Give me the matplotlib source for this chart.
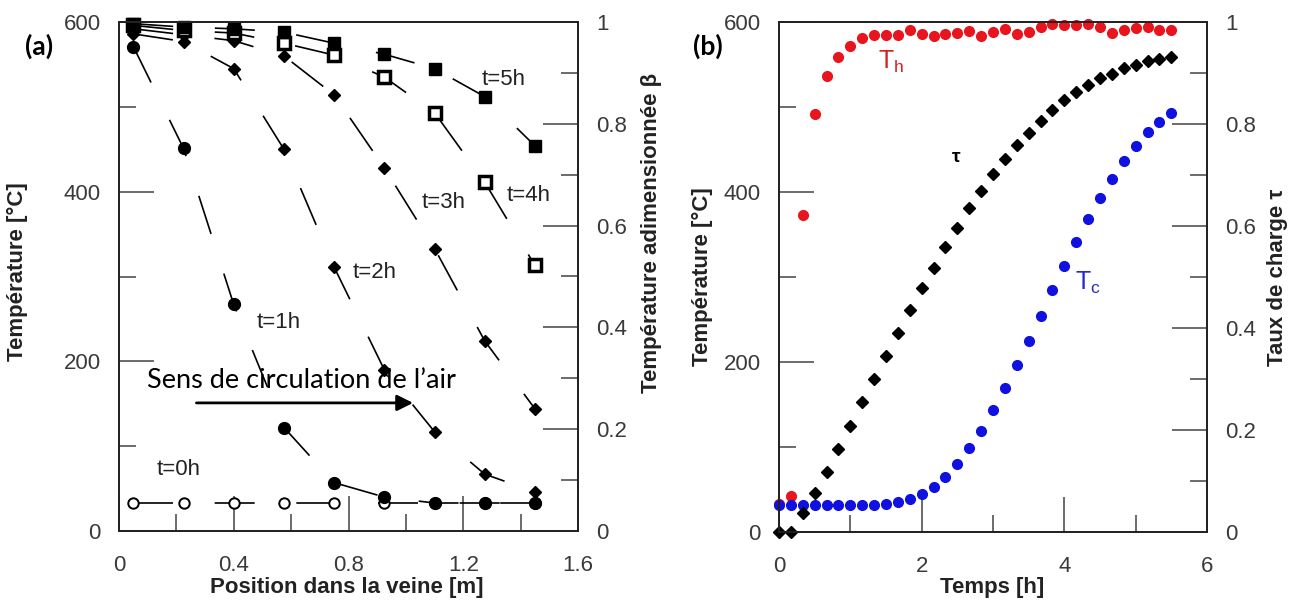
import matplotlib
matplotlib.use('Agg')
import matplotlib.pyplot as plt
from matplotlib.ticker import MultipleLocator, FormatStrFormatter

plt.rcParams['font.family'] = ['Liberation Sans', 'DejaVu Sans']

# (a) temperature profiles along the bed, one list per time
position = [0.05, 0.225, 0.40, 0.575, 0.75, 0.925, 1.10, 1.275, 1.45]
T_0h = [33, 33, 33, 33, 33, 33, 33, 33, 33]
T_1h = [571, 451, 267, 122, 57, 40, 33, 33, 33]
T_2h = [586, 577, 545, 450, 311, 190, 117, 67, 46]
T_3h = [592, 585, 578, 560, 514, 428, 333, 224, 144]
T_4h = [596, 590, 587, 575, 561, 535, 493, 411, 313]
T_5h = [598, 594, 592, 588, 575, 562, 545, 512, 454]

# (b) inlet / outlet temperature and charge ratio vs time
time_h = [0.00, 0.17, 0.33, 0.50, 0.67, 0.83, 1.00, 1.17, 1.33, 1.50, 1.67, 1.83,
          2.00, 2.17, 2.33, 2.50, 2.67, 2.83, 3.00, 3.17, 3.33, 3.50, 3.67, 3.83,
          4.00, 4.17, 4.33, 4.50, 4.67, 4.83, 5.00, 5.17, 5.33, 5.50]
T_h = [33, 42, 373, 492, 536, 559, 572, 581, 585, 585, 585, 591,
       586, 584, 586, 587, 589, 583, 588, 592, 586, 588, 594, 598,
       597, 597, 598, 594, 587, 591, 593, 594, 591, 591]
T_c = [32, 32, 32, 32, 32, 32, 32, 32, 32, 33, 35, 39,
       45, 53, 65, 80, 99, 119, 143, 169, 196, 225, 254, 285,
       313, 341, 368, 393, 415, 436, 454, 470, 482, 493]
tau = [0, 0, 0.037, 0.076, 0.118, 0.163, 0.208, 0.255, 0.300, 0.345, 0.390, 0.435,
       0.478, 0.518, 0.559, 0.596, 0.635, 0.669, 0.702, 0.731, 0.759, 0.782, 0.806, 0.827,
       0.847, 0.863, 0.876, 0.890, 0.898, 0.910, 0.916, 0.924, 0.927, 0.931]

W, H = 1296, 601
fig = plt.figure(figsize=(W / 100, H / 100), dpi=100)

TXT = '#3a3a3a'
TICK = '#444444'
RED = '#e8141e'
BLUE = '#1010e0'


def px_axes(x0, x1, y0, y1):
    return fig.add_axes([x0 / W, 1 - y1 / H, (x1 - x0) / W, (y1 - y0) / H])


def frame(ax, xmaj, xmin, xmax):
    ax.set_xlim(0, xmax)
    ax.set_ylim(0, 600)
    ax.xaxis.set_major_locator(MultipleLocator(xmaj))
    ax.xaxis.set_minor_locator(MultipleLocator(xmin))
    ax.xaxis.set_major_formatter(FormatStrFormatter('%g'))
    ax.yaxis.set_major_locator(MultipleLocator(200))
    ax.yaxis.set_minor_locator(MultipleLocator(100))
    ax.tick_params(which='both', direction='in', top=False, right=False,
                   width=1.1, color=TICK)
    ax.tick_params(which='major', length=25, labelsize=16, labelcolor=TXT)
    ax.tick_params(which='minor', length=12)
    ax.tick_params(axis='x', pad=17)
    ax.tick_params(axis='y', pad=13)
    for s in ax.spines.values():
        s.set_linewidth(1.3)
        s.set_color('#222222')

    tw = ax.twinx()
    tw.set_ylim(0, 1)
    tw.yaxis.set_major_locator(MultipleLocator(0.2))
    tw.yaxis.set_minor_locator(MultipleLocator(0.1))
    tw.yaxis.set_major_formatter(FormatStrFormatter('%g'))
    tw.tick_params(which='both', direction='in', left=False, right=True,
                   width=1.1, color=TICK, pad=13)
    tw.tick_params(which='major', length=25, labelsize=16, labelcolor=TXT)
    tw.tick_params(which='minor', length=12)
    for s in tw.spines.values():
        s.set_linewidth(1.3)
        s.set_color('#222222')
    return tw


# ---------------- panel (a)
ax1 = px_axes(119, 578, 22, 531)
tw1 = frame(ax1, 0.4, 0.2, 1.6)

dash = (0, (24, 25))
ax1.plot(position, T_0h, color='k', lw=1.2, ls=dash, marker='o', ms=7.5,
         mfc='white', mec='k', mew=1.4, clip_on=False)
ax1.plot(position, T_1h, color='k', lw=1.2, ls=dash, marker='o', ms=8.5, clip_on=False)
ax1.plot(position, T_2h, color='k', lw=1.2, ls=dash, marker='D', ms=6, clip_on=False)
ax1.plot(position, T_3h, color='k', lw=1.2, ls=dash, marker='D', ms=6, clip_on=False)
ax1.plot(position, T_4h, color='k', lw=1.2, ls=dash, marker='s', ms=8,
         mfc='white', mec='k', mew=2.5, clip_on=False)
ax1.plot(position, T_5h, color='k', lw=1.2, ls=dash, marker='s', ms=9, clip_on=False)

for x, y, s in [(1.265, 532, 't=5h'), (1.35, 396, 't=4h'), (1.055, 387, 't=3h'),
                (0.816, 305, 't=2h'), (0.48, 246, 't=1h'), (0.13, 73, 't=0h')]:
    ax1.text(x, y, s, fontsize=16, va='center', ha='left', color='#222222')

ax1.annotate('', xy=(1.025, 151), xytext=(0.27, 151),
             arrowprops=dict(arrowstyle='-|>', color='k', lw=2,
                             mutation_scale=24, shrinkA=0, shrinkB=0))
ax1.text(0.098, 177, 'Sens de circulation de l\u2019air', fontsize=19.5,
         family=['Lato', 'DejaVu Sans'], va='center', ha='left', color='k')

# ---------------- panel (b)
ax2 = px_axes(779, 1207, 22, 532)
tw2 = frame(ax2, 2, 1, 6)

ax2.plot(time_h, T_h, ls='none', marker='o', ms=7, color=RED, clip_on=False)
ax2.plot(time_h, T_c, ls='none', marker='o', ms=7, color=BLUE, clip_on=False)
tw2.plot(time_h, tau, ls='none', marker='D', ms=6, color='k', clip_on=False)

ax2.text(1.39, 553, 'T$_\\mathregular{h}$', fontsize=18, color='#d42020',
         va='center', ha='left')
ax2.text(4.15, 293, 'T$_\\mathregular{c}$', fontsize=18, color='#2828c8',
         va='center', ha='left')
ax2.text(2.48, 441, '\u03c4', fontsize=14, fontweight='bold', color='k',
         va='center', ha='center')

# ---------------- axis titles and panel letters
lab = dict(fontsize=16, fontweight='bold', color='#222222', ha='center', va='center')
fig.text(17 / W, 1 - 272 / H, 'Température [°C]', rotation=90, **lab)
fig.text(652 / W, 1 - 233 / H, 'Température adimensionnée \u03b2', rotation=90, **lab)
fig.text(347 / W, 1 - 587 / H, 'Position dans la veine [m]', **lab)
fig.text(702 / W, 1 - 277 / H, 'Température [°C]', rotation=90, **lab)
fig.text(1278 / W, 1 - 277 / H, 'Taux de charge \u03c4', rotation=90, **lab)
fig.text(992 / W, 1 - 587 / H, 'Temps [h]', **lab)

letter = dict(fontsize=19, fontweight='bold', family=['Lato', 'DejaVu Sans'],
              ha='center', va='center', color='k')
fig.text(39 / W, 1 - 46 / H, '(a)', **letter)
fig.text(708 / W, 1 - 46 / H, '(b)', **letter)

fig.savefig('out.png', dpi=100)
